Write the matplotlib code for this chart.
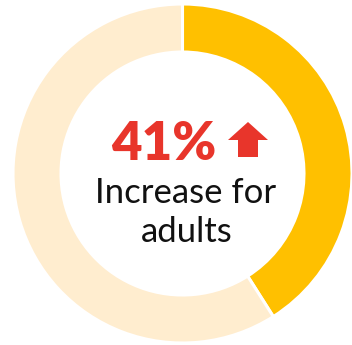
import matplotlib
matplotlib.use("Agg")
import matplotlib.pyplot as plt
from matplotlib.patches import Polygon

# Share of the ring: highlighted increase vs. remainder
shares = [41, 59]
colors = ["#FFC000", "#FFEDCF"]
headline = "41%"
caption_lines = ["Increase for", "adults"]

W, H = 352, 345
fig = plt.figure(figsize=(W / 100, H / 100), dpi=100)
ax = fig.add_axes([0, 0, 1, 1])
ax.set_xlim(0, W)
ax.set_ylim(0, H)
ax.set_aspect("equal")
ax.axis("off")

cx, cy, r = 182.5, H - 173.5, 169.5
ax.pie(shares, colors=colors, startangle=90, counterclock=False,
       center=(cx, cy), radius=r,
       wedgeprops=dict(width=48, edgecolor="white", linewidth=2.2))
ax.set_xlim(0, W)
ax.set_ylim(0, H)

red = "#E8352B"
ax.text(164, H - 144, headline, color=red, fontsize=38, fontweight="heavy",
        family="Lato", ha="center", va="center")

# upward arrow next to the headline
arrow = [(248, H - 122), (268, H - 140), (258, H - 140), (258, H - 157),
         (238, H - 157), (238, H - 140), (228, H - 140)]
ax.add_patch(Polygon(arrow, closed=True, color=red, lw=0))

ax.text(186, H - 193, caption_lines[0], color="#111111", fontsize=25,
        family="Lato", ha="center", va="center")
ax.text(187, H - 232, caption_lines[1], color="#111111", fontsize=25,
        family="Lato", ha="center", va="center")

fig.savefig("out.png", dpi=100)
